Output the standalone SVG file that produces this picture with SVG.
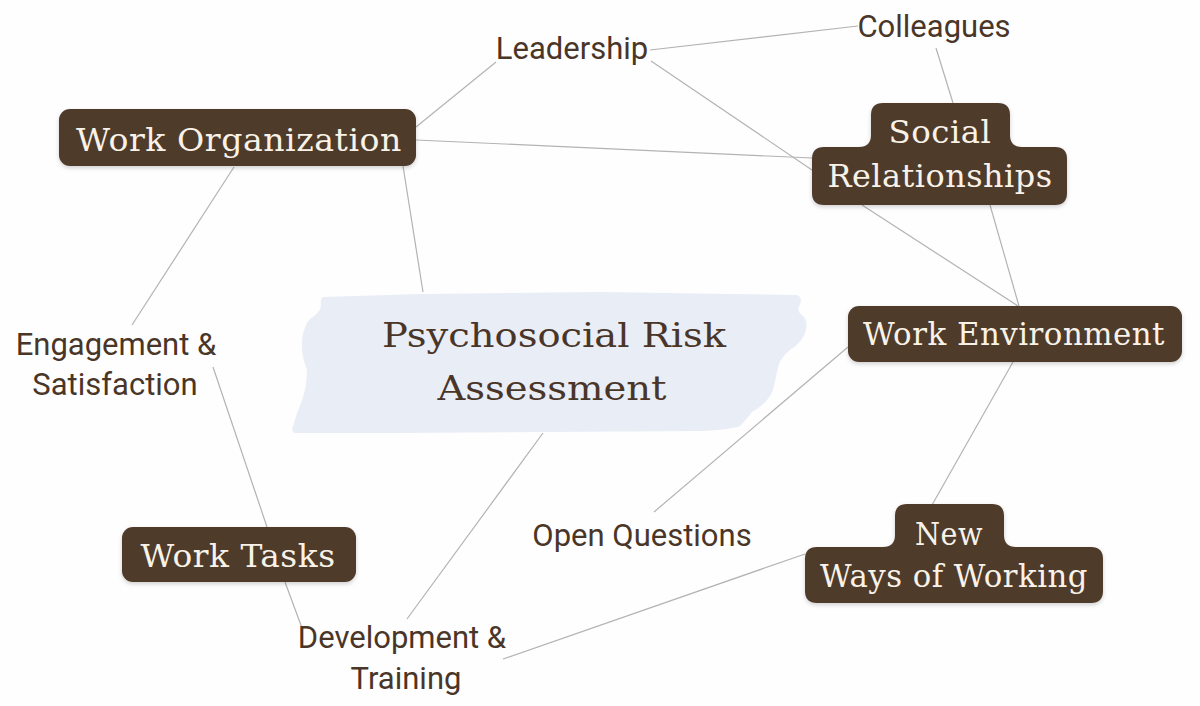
<svg xmlns="http://www.w3.org/2000/svg" width="1200" height="706" viewBox="0 0 1200 706">
<defs>
<filter id="sh" x="-10%" y="-20%" width="120%" height="150%">
<feDropShadow dx="0" dy="2" stdDeviation="2" flood-color="#000" flood-opacity="0.18"/>
</filter>
</defs>
<style>
.node{fill:#4f3a2a;filter:url(#sh)}
.nt{font-family:"DejaVu Serif","Liberation Serif",serif;font-size:32px;fill:#f8f2e8;text-anchor:middle;letter-spacing:0.5px}
.ct{font-family:"DejaVu Serif","Liberation Serif",serif;font-size:33px;fill:#4a3628;text-anchor:middle}
.lb{font-family:Roboto,"Liberation Sans",sans-serif;font-size:31px;fill:#4a3628;text-anchor:middle}
.cn line{stroke:#b3b3b3;stroke-width:1.2;fill:none}
</style>
<rect width="1200" height="706" fill="#fefefe"/>
<g id="connectors" class="cn">
<line x1="416" y1="127" x2="496" y2="62"/>
<line x1="650" y1="50" x2="858" y2="26"/>
<line x1="651" y1="61" x2="812" y2="170"/>
<line x1="416" y1="140" x2="812" y2="158"/>
<line x1="936" y1="48" x2="953" y2="103"/>
<line x1="862" y1="205" x2="1018" y2="306"/>
<line x1="990" y1="205" x2="1019" y2="306"/>
<line x1="403" y1="166" x2="423" y2="292"/>
<line x1="234" y1="167" x2="132" y2="325"/>
<line x1="213" y1="367" x2="267" y2="527"/>
<line x1="285" y1="582" x2="302" y2="628"/>
<line x1="407" y1="619" x2="543" y2="433"/>
<line x1="503" y1="659" x2="805" y2="554"/>
<line x1="654" y1="512" x2="848" y2="347"/>
<line x1="1013" y1="362" x2="932" y2="505"/>
</g>
<g id="center">
<path d="M 323,297 L 420,294 L 600,292 L 797,295 Q 803,298 800,304 Q 796,311 802,315 Q 808,320 806,330 Q 803,342 790,350 Q 779,358 777,372 L 773,390 Q 768,403 752,412 Q 746,420 740,426 Q 730,430 700,431 L 400,433 L 295,433 Q 291,432 293,426 L 297,413 Q 303,400 306,385 L 307,370 Q 301,355 302,340 Q 304,325 310,319 Q 321,312 321,305 Q 320,298 323,297 Z" fill="#e9edf6"/>
<text class="ct" x="554" y="347" textLength="344" lengthAdjust="spacingAndGlyphs">Psychosocial Risk</text>
<text class="ct" x="552" y="400" textLength="229" lengthAdjust="spacingAndGlyphs">Assessment</text>
</g>
<g id="work-organization">
<rect class="node" x="59" y="109" width="357" height="57" rx="11"/>
<text class="nt" x="239" y="151" textLength="326" lengthAdjust="spacingAndGlyphs">Work Organization</text>
</g>
<g id="social-relationships">
<path class="node" d="M 883,103 H 998 Q 1010,103 1010,115 V 135 Q 1010,147 1022,147 H 1055 Q 1067,147 1067,159 V 193 Q 1067,205 1055,205 H 824 Q 812,205 812,193 V 159 Q 812,147 824,147 H 859 Q 871,147 871,135 V 115 Q 871,103 883,103 Z"/>
<text class="nt" x="940" y="143" textLength="103" lengthAdjust="spacingAndGlyphs">Social</text>
<text class="nt" x="940" y="187" textLength="225" lengthAdjust="spacingAndGlyphs">Relationships</text>
</g>
<g id="work-environment">
<rect class="node" x="848" y="306" width="334" height="56" rx="11"/>
<text class="nt" x="1014" y="345" textLength="302" lengthAdjust="spacingAndGlyphs">Work Environment</text>
</g>
<g id="new-ways-of-working">
<path class="node" d="M 907,504 H 992 Q 1004,504 1004,516 V 535 Q 1004,547 1016,547 H 1091 Q 1103,547 1103,559 V 591 Q 1103,603 1091,603 H 817 Q 805,603 805,591 V 559 Q 805,547 817,547 H 883 Q 895,547 895,535 V 516 Q 895,504 907,504 Z"/>
<text class="nt" x="949" y="545" textLength="68" lengthAdjust="spacingAndGlyphs">New</text>
<text class="nt" x="954" y="587" textLength="268" lengthAdjust="spacingAndGlyphs">Ways of Working</text>
</g>
<g id="work-tasks">
<rect class="node" x="122" y="527" width="234" height="55" rx="11"/>
<text class="nt" x="238" y="567" textLength="195" lengthAdjust="spacingAndGlyphs">Work Tasks</text>
</g>
<g id="leadership"><text class="lb" x="572" y="59">Leadership</text></g>
<g id="colleagues"><text class="lb" x="934" y="37">Colleagues</text></g>
<g id="engagement-satisfaction">
<text class="lb" x="116" y="355">Engagement &amp;</text>
<text class="lb" x="115" y="395">Satisfaction</text>
</g>
<g id="open-questions"><text class="lb" x="642" y="546">Open Questions</text></g>
<g id="development-training">
<text class="lb" x="402" y="648">Development &amp;</text>
<text class="lb" x="406" y="689">Training</text>
</g>
</svg>
